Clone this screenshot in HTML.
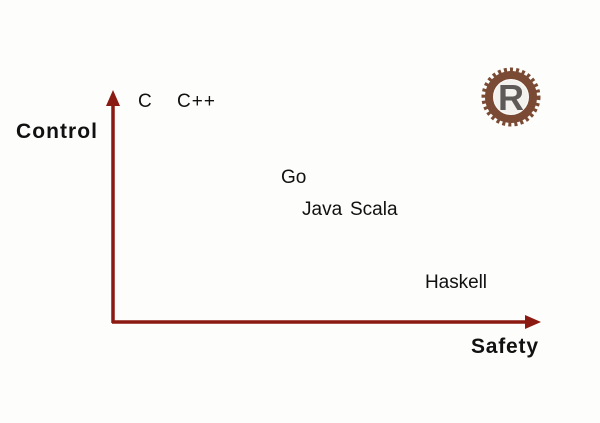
<!DOCTYPE html>
<html><head><style>
body{margin:0;background:#fdfdfb;}
svg{display:block}
text{font-family:"Liberation Sans",sans-serif;fill:#111}
</style></head><body>
<svg width="600" height="423" viewBox="0 0 600 423">
<rect width="600" height="423" fill="#fdfdfb"/>
<line x1="113" y1="323" x2="113" y2="104" stroke="#8b1a12" stroke-width="3.5"/>
<polygon points="113,90 106,106 120,106" fill="#8b1a12"/>
<line x1="112" y1="322" x2="528" y2="322" stroke="#8b1a12" stroke-width="3.5"/>
<polygon points="541,322 525,315 525,329" fill="#8b1a12"/>
<text x="16" y="138" font-size="21" font-weight="bold" textLength="81">Control</text>
<text x="471" y="353" font-size="21" font-weight="bold" textLength="67">Safety</text>
<text x="138" y="107" font-size="19">C</text>
<text x="177" y="107" font-size="19" textLength="38">C++</text>
<text x="281" y="183" font-size="19">Go</text>
<text x="302" y="215" font-size="19">Java</text>
<text x="350" y="215" font-size="19">Scala</text>
<text x="425" y="288" font-size="19" textLength="62">Haskell</text>
<g transform="translate(511,97)">
<circle r="27" fill="none" stroke="#7a4a34" stroke-width="5" stroke-dasharray="3 3"/>
<circle r="22" fill="none" stroke="#7a4a34" stroke-width="8"/>
<circle r="17" fill="#f4f2ee"/>
<text x="0" y="13" font-size="36" font-weight="bold" text-anchor="middle" style="fill:#5e5a58">R</text>
</g>
</svg>
</body></html>
